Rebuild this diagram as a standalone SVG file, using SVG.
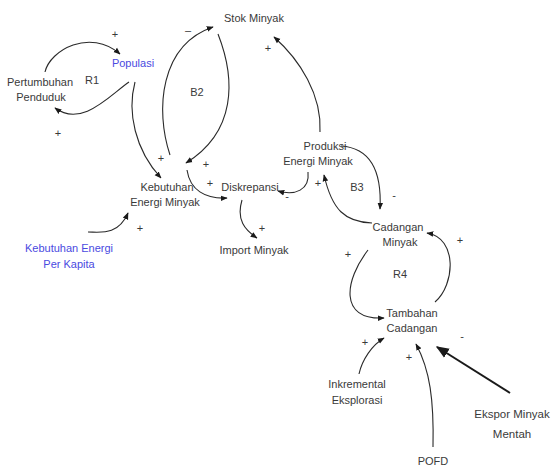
<svg xmlns="http://www.w3.org/2000/svg" width="551" height="469" viewBox="0 0 551 469">
<defs>
<style>
text{font-family:'Liberation Sans',Arial,sans-serif;font-size:11px;fill:#3a3a3a;text-anchor:middle}
.blue{fill:#4a4adf}
.sign{font-size:11px}
.big{font-size:11.5px}
.c{fill:none;stroke:#2a2a2a;stroke-width:1.1}
.thick{fill:none;stroke:#1a1a1a;stroke-width:2}
</style>
<marker id="ah" viewBox="0 0 10 10" refX="9" refY="5" markerWidth="7" markerHeight="7" markerUnits="userSpaceOnUse" orient="auto"><path d="M0,1 L10,5 L0,9 Z" fill="#1a1a1a"/></marker>
<marker id="ahb" viewBox="0 0 10 10" refX="9" refY="5" markerWidth="13" markerHeight="13" markerUnits="userSpaceOnUse" orient="auto"><path d="M0,1 L10,5 L0,9 Z" fill="#1a1a1a"/></marker>
</defs>
<rect width="551" height="469" fill="#fff"/>
<g id="connectors">
<path class="c" marker-end="url(#ah)" d="M45 72 C50 50 90 28 120 54"/>
<path class="c" marker-end="url(#ah)" d="M129 82 C110 95 82 128 55 108"/>
<path class="c" marker-end="url(#ah)" d="M135 82 C127 112 135 150 161 178"/>
<path class="c" marker-end="url(#ah)" d="M170 155 C155 110 160 45 213 27"/>
<path class="c" marker-end="url(#ah)" d="M218 34 C236 80 236 132 186 163"/>
<path class="c" marker-end="url(#ah)" d="M187 170 C190 190 205 199 227 198"/>
<path class="c" marker-end="url(#ah)" d="M242 200 C236 220 245 230 257 238"/>
<path class="c" marker-end="url(#ah)" d="M308 172 C310 190 295 196 278 191"/>
<path class="c" marker-end="url(#ah)" d="M320 132 C322 95 300 60 274 37"/>
<path class="c" marker-end="url(#ah)" d="M341 146 C370 148 382 170 380 209"/>
<path class="c" marker-end="url(#ah)" d="M372 223 C345 222 332 210 324 175"/>
<path class="c" marker-end="url(#ah)" d="M435 302 C455 285 458 238 427 233"/>
<path class="c" marker-end="url(#ah)" d="M368 250 C345 280 338 320 384 318"/>
<path class="c" marker-end="url(#ah)" d="M359 374 C362 360 372 345 384 338"/>
<path class="c" marker-end="url(#ah)" d="M433 447 C434 400 430 370 416 344"/>
<path class="thick" marker-end="url(#ahb)" d="M510 393 L437 347"/>
<path class="c" marker-end="url(#ah)" d="M88 232 C100 232 118 236 128 213"/>
</g>
<g id="labels">
<text x="92" y="84">R1</text>
<text x="197" y="96">B2</text>
<text x="357" y="191">B3</text>
<text x="400" y="278">R4</text>
<text class="sign" x="115" y="38">+</text>
<text class="sign" x="58" y="137">+</text>
<text class="sign" x="188" y="34">–</text>
<text class="sign" x="268" y="52">+</text>
<text class="sign" x="161" y="162">+</text>
<text class="sign" x="206" y="168">+</text>
<text class="sign" x="210" y="187">+</text>
<text class="sign" x="287" y="200">-</text>
<text class="sign" x="318" y="187">+</text>
<text class="sign" x="394" y="199">-</text>
<text class="sign" x="262" y="232">+</text>
<text class="sign" x="140" y="232">+</text>
<text class="sign" x="460" y="244">+</text>
<text class="sign" x="348" y="258">+</text>
<text class="sign" x="462" y="340">-</text>
<text class="sign" x="365" y="346">+</text>
<text class="sign" x="409" y="361">+</text>
</g>
<g id="stok-minyak"><text x="254" y="22">Stok Minyak</text></g>
<g id="pertumbuhan-penduduk"><text x="40" y="86">Pertumbuhan</text><text x="41" y="101">Penduduk</text></g>
<g id="populasi"><text class="blue" x="133" y="67">Populasi</text></g>
<g id="kebutuhan-energi-minyak"><text x="167" y="191">Kebutuhan</text><text x="165" y="206">Energi Minyak</text></g>
<g id="diskrepansi"><text x="250" y="191">Diskrepansi</text></g>
<g id="produksi-energi-minyak"><text x="325" y="150">Produksi</text><text x="318" y="165">Energi Minyak</text></g>
<g id="import-minyak"><text x="254" y="254">Import Minyak</text></g>
<g id="kebutuhan-energi-per-kapita"><text class="blue" x="69" y="252">Kebutuhan Energi</text><text class="blue" x="69" y="268">Per Kapita</text></g>
<g id="cadangan-minyak"><text x="398" y="231">Cadangan</text><text x="400" y="246">Minyak</text></g>
<g id="tambahan-cadangan"><text x="412" y="317">Tambahan</text><text x="412" y="332">Cadangan</text></g>
<g id="inkremental-eksplorasi"><text x="357" y="388">Inkremental</text><text x="357" y="404">Eksplorasi</text></g>
<g id="pofd"><text x="433" y="465">POFD</text></g>
<g id="ekspor-minyak-mentah"><text class="big" x="512" y="418">Ekspor Minyak</text><text class="big" x="512" y="438">Mentah</text></g>
</svg>
